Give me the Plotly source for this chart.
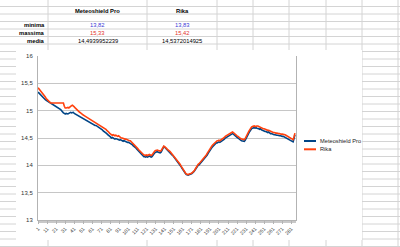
import plotly.graph_objects as go

# ---------------- data ----------------
series_names = ["Meteoshield Pro", "Rika"]
meteoshield = [
    15.34, 15.32, 15.30, 15.29, 15.27, 15.25, 15.23, 15.22, 15.20, 15.19,
    15.18, 15.17, 15.16, 15.14, 15.13, 15.12, 15.11, 15.10, 15.09, 15.08,
    15.07, 15.07, 15.06, 15.05, 15.04, 15.02, 15.00, 14.97, 14.96, 14.95,
    14.94, 14.95, 14.94, 14.94, 14.95, 14.96, 14.97, 14.96, 14.97, 14.97,
    14.95, 14.94, 14.93, 14.92, 14.91, 14.90, 14.89, 14.88, 14.88, 14.87,
    14.86, 14.85, 14.84, 14.83, 14.82, 14.81, 14.79, 14.78, 14.77, 14.77,
    14.76, 14.75, 14.74, 14.73, 14.73, 14.72, 14.71, 14.70, 14.69, 14.68,
    14.66, 14.65, 14.63, 14.62, 14.61, 14.59, 14.58, 14.56, 14.55, 14.53,
    14.52, 14.50, 14.51, 14.50, 14.49, 14.48, 14.49, 14.48, 14.47, 14.47,
    14.46, 14.47, 14.46, 14.45, 14.44, 14.45, 14.44, 14.44, 14.43, 14.42,
    14.42, 14.41, 14.41, 14.39, 14.38, 14.36, 14.35, 14.33, 14.32, 14.30,
    14.28, 14.26, 14.24, 14.22, 14.20, 14.18, 14.17, 14.16, 14.16, 14.15,
    14.16, 14.15, 14.16, 14.17, 14.16, 14.15, 14.16, 14.19, 14.22, 14.23,
    14.24, 14.25, 14.25, 14.24, 14.23, 14.23, 14.24, 14.28, 14.32, 14.34,
    14.33, 14.31, 14.29, 14.27, 14.26, 14.25, 14.23, 14.21, 14.19, 14.18,
    14.16, 14.14, 14.12, 14.10, 14.08, 14.06, 14.04, 14.01, 13.98, 13.95,
    13.92, 13.89, 13.87, 13.85, 13.83, 13.82, 13.82, 13.83, 13.83, 13.84,
    13.85, 13.86, 13.88, 13.90, 13.93, 13.95, 13.98, 14.00, 14.01, 14.03,
    14.04, 14.05, 14.07, 14.09, 14.11, 14.13, 14.16, 14.19, 14.22, 14.25,
    14.28, 14.30, 14.32, 14.34, 14.36, 14.38, 14.40, 14.41, 14.41, 14.42,
    14.43, 14.42, 14.43, 14.44, 14.46, 14.47, 14.48, 14.50, 14.51, 14.52,
    14.53, 14.54, 14.56, 14.57, 14.58, 14.58, 14.57, 14.55, 14.53, 14.52,
    14.51, 14.50, 14.48, 14.47, 14.46, 14.45, 14.45, 14.44, 14.44, 14.46,
    14.50, 14.53, 14.56, 14.59, 14.62, 14.65, 14.67, 14.68, 14.69, 14.69,
    14.68, 14.69, 14.68, 14.68, 14.67, 14.66, 14.67, 14.65, 14.64, 14.64,
    14.63, 14.62, 14.62, 14.61, 14.60, 14.61, 14.59, 14.58, 14.58, 14.57,
    14.57, 14.56, 14.56, 14.55, 14.55, 14.55, 14.54, 14.54, 14.54, 14.53,
    14.53, 14.53, 14.52, 14.52, 14.51, 14.50, 14.49, 14.48, 14.47, 14.46,
    14.45, 14.44, 14.43, 14.49, 14.56,
]
rika = [
    15.42, 15.40, 15.38, 15.36, 15.34, 15.33, 15.31, 15.28, 15.25, 15.22,
    15.20, 15.18, 15.16, 15.15, 15.14, 15.14, 15.14, 15.13, 15.14, 15.14,
    15.14, 15.13, 15.14, 15.14, 15.14, 15.13, 15.14, 15.14, 15.14, 15.08,
    15.05, 15.05, 15.06, 15.06, 15.05, 15.07, 15.08, 15.09, 15.10, 15.09,
    15.07, 15.05, 15.03, 15.02, 15.00, 14.98, 14.97, 14.96, 14.94, 14.93,
    14.92, 14.91, 14.90, 14.88, 14.87, 14.86, 14.85, 14.84, 14.83, 14.82,
    14.81, 14.80, 14.80, 14.79, 14.78, 14.77, 14.76, 14.75, 14.74, 14.73,
    14.72, 14.71, 14.70, 14.69, 14.67, 14.66, 14.64, 14.63, 14.61, 14.59,
    14.57, 14.56, 14.55, 14.56, 14.54, 14.54, 14.55, 14.54, 14.53, 14.54,
    14.52, 14.51, 14.50, 14.50, 14.49, 14.49, 14.48, 14.48, 14.47, 14.47,
    14.46, 14.45, 14.45, 14.43, 14.42, 14.40, 14.38, 14.37, 14.35, 14.33,
    14.31, 14.29, 14.27, 14.25, 14.23, 14.21, 14.20, 14.19, 14.19, 14.18,
    14.19, 14.18, 14.19, 14.20, 14.19, 14.18, 14.19, 14.22, 14.25, 14.26,
    14.27, 14.28, 14.28, 14.27, 14.26, 14.26, 14.27, 14.30, 14.33, 14.35,
    14.34, 14.33, 14.31, 14.29, 14.28, 14.27, 14.25, 14.23, 14.21, 14.20,
    14.18, 14.16, 14.14, 14.11, 14.09, 14.07, 14.05, 14.02, 13.99, 13.96,
    13.93, 13.90, 13.88, 13.86, 13.84, 13.83, 13.83, 13.84, 13.84, 13.85,
    13.86, 13.87, 13.89, 13.91, 13.94, 13.97, 14.00, 14.02, 14.03, 14.05,
    14.06, 14.07, 14.09, 14.11, 14.13, 14.16, 14.19, 14.22, 14.25, 14.28,
    14.31, 14.33, 14.35, 14.37, 14.39, 14.41, 14.43, 14.44, 14.45, 14.45,
    14.46, 14.45, 14.46, 14.48, 14.49, 14.50, 14.51, 14.53, 14.54, 14.55,
    14.56, 14.57, 14.59, 14.60, 14.61, 14.61, 14.60, 14.58, 14.56, 14.55,
    14.54, 14.53, 14.51, 14.50, 14.49, 14.48, 14.48, 14.47, 14.47, 14.49,
    14.53, 14.56, 14.59, 14.62, 14.65, 14.68, 14.70, 14.71, 14.72, 14.72,
    14.71, 14.72, 14.72, 14.72, 14.71, 14.70, 14.70, 14.69, 14.68, 14.67,
    14.67, 14.66, 14.65, 14.65, 14.64, 14.64, 14.63, 14.62, 14.61, 14.61,
    14.60, 14.60, 14.59, 14.59, 14.59, 14.58, 14.58, 14.58, 14.57, 14.57,
    14.57, 14.57, 14.56, 14.56, 14.55, 14.54, 14.53, 14.52, 14.51, 14.50,
    14.49, 14.48, 14.47, 14.52, 14.59,
]
categories = list(range(1, len(meteoshield) + 1))
x_tick_vals = list(range(1, len(meteoshield) + 1, 10))
x_tick_text = [str(v) for v in x_tick_vals]
y_tick_vals = [13, 13.5, 14, 14.5, 15, 15.5, 16]
y_tick_text = ["13", "13,5", "14", "14,5", "15", "15,5", "16"]

table_rows = ["minima", "massima", "media"]
table_meteoshield = ["13,82", "15,33", "14,4939952239"]
table_rika = ["13,83", "15,42", "14,5372014925"]

# ---------------- layout helpers ----------------
W, H = 400, 247
PX0, PX1, PY0, PY1 = 38, 296, 56, 220  # plot area in pixels


def fx(px):
    return (px - PX0) / (PX1 - PX0)


def fy(py):
    return (PY1 - py) / (PY1 - PY0)


FONT = "Liberation Sans, Arial, sans-serif"
BLUE = "#004586"
ORANGE = "#ff420e"
GRID = "#d4d4d4"

shapes = []
# spreadsheet grid
y = 6.5
while y < H:
    shapes.append(dict(type="line", xref="paper", yref="paper", x0=fx(0), x1=fx(W),
                       y0=fy(y), y1=fy(y), line=dict(color=GRID, width=1), layer="below"))
    y += 7.5
for xv in [48, 147, 217, 253, 289, 326, 362, 398]:
    shapes.append(dict(type="line", xref="paper", yref="paper", x0=fx(xv), x1=fx(xv),
                       y0=fy(0), y1=fy(H), line=dict(color=GRID, width=1), layer="below"))
# chart object background
shapes.append(dict(type="rect", xref="paper", yref="paper", x0=fx(16), x1=fx(362),
                   y0=fy(240), y1=fy(50), fillcolor="white", line=dict(width=0), layer="below"))
# legend samples
for i, col in enumerate([BLUE, ORANGE]):
    yy = 141 + 8.3 * i
    shapes.append(dict(type="line", xref="paper", yref="paper", x0=fx(304), x1=fx(316),
                       y0=fy(yy), y1=fy(yy), line=dict(color=col, width=2)))

annotations = []
# table headers
annotations.append(dict(x=fx(97.5), y=fy(10.5), text="<b>" + series_names[0] + "</b>"))
annotations.append(dict(x=fx(182), y=fy(10.5), text="<b>" + series_names[1] + "</b>"))
row_y = [25.5, 33, 40.5]
val_colors = ["#3b3bd6", "#e2332b", "#000000"]
for i, lab in enumerate(table_rows):
    annotations.append(dict(x=fx(47), y=fy(row_y[i]), text="<b>" + lab + "</b>", xanchor="right"))
    annotations.append(dict(x=fx(97.5), y=fy(row_y[i]), text=table_meteoshield[i],
                            font=dict(color=val_colors[i], size=5.8, family=FONT)))
    annotations.append(dict(x=fx(182), y=fy(row_y[i]), text=table_rika[i],
                            font=dict(color=val_colors[i], size=5.8, family=FONT)))
# legend texts
for i, name in enumerate(series_names):
    annotations.append(dict(x=fx(318), y=fy(141 + 8.3 * i), text=name, xanchor="left",
                            font=dict(color="#222222", size=5.7, family=FONT)))

for a in annotations:
    a.setdefault("xref", "paper")
    a.setdefault("yref", "paper")
    a.setdefault("xanchor", "center")
    a.setdefault("yanchor", "middle")
    a.setdefault("showarrow", False)
    a.setdefault("font", dict(color="#000000", size=5.8, family=FONT))

fig = go.Figure()
fig.add_trace(go.Scatter(x=categories, y=meteoshield, mode="lines", name=series_names[0],
                         line=dict(color=BLUE, width=1.6)))
fig.add_trace(go.Scatter(x=categories, y=rika, mode="lines", name=series_names[1],
                         line=dict(color=ORANGE, width=1.6)))

fig.update_layout(
    width=W, height=H,
    margin=dict(l=PX0, r=W - PX1, t=PY0, b=H - PY1, pad=0),
    paper_bgcolor="white",
    plot_bgcolor="rgba(0,0,0,0)",
    showlegend=False,
    shapes=shapes,
    annotations=annotations,
    font=dict(family=FONT, size=6, color="#333333"),
)
fig.update_xaxes(
    range=[0.9, len(meteoshield) + 1.2],
    tickvals=x_tick_vals, ticktext=x_tick_text,
    tickangle=-45, tickfont=dict(size=5, color="#333333", family=FONT),
    showgrid=False, zeroline=False,
    showline=True, linecolor="#b3b3b3", linewidth=1,
    ticks="outside", ticklen=3, tickcolor="#b3b3b3",
    minor=dict(dtick=1, tick0=1, ticks="outside", ticklen=2, tickcolor="#c8c8c8"),
)
fig.update_yaxes(
    range=[13, 16],
    tickvals=y_tick_vals, ticktext=y_tick_text,
    tickfont=dict(size=6, color="#333333", family=FONT),
    showgrid=True, gridcolor="#c6c6c6", gridwidth=1,
    zeroline=False, showline=True, linecolor="#b3b3b3", linewidth=1, mirror=True,
    ticks="", ticklabelstandoff=3,
)

fig.write_html("out.html")
